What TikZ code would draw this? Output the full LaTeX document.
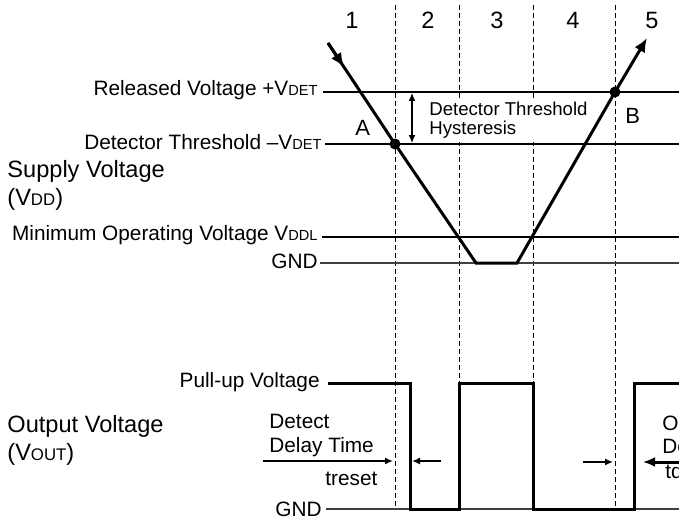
\documentclass[tikz,border=0pt]{standalone}
\usepackage{fontspec}
\setmainfont{Liberation Sans}
\usepackage{tikz}
\usetikzlibrary{arrows.meta,positioning,calc}
\newcommand{\lbl}{\fontsize{10.4}{12}\selectfont}
\newcommand{\lblbig}{\fontsize{11.8}{14}\selectfont}
\newcommand{\sbs}[1]{{\fontsize{7.3}{8}\selectfont #1}}
\newcommand{\sbsbig}[1]{{\fontsize{8.4}{9}\selectfont #1}}
\tikzset{
  level/.style={line width=0.6pt},
  gndline/.style={line width=0.6pt,black!75},
  marker/.style={line width=0.5pt,dash pattern=on 2.5pt off 1.5pt},
  wave/.style={line width=1.5pt,line join=miter},
  vdot/.style={circle,fill,inner sep=0pt,minimum size=5.5pt},
  tarrow/.style={line width=0.8pt,-{Latex[length=4pt,width=3.5pt]}},
  rtxt/.style={anchor=base east,inner sep=0pt,font=\lbl},
  ltxt/.style={anchor=base west,inner sep=0pt,font=\lbl},
}

\begin{document}
\begin{tikzpicture}[x=0.5pt,y=-0.5pt]
  \def\xr{679}
  \useasboundingbox (0,0) rectangle (\xr,519);
  \clip (0,0) rectangle (\xr,519);
  % time regions
  \foreach \x in {395,459,533,615} \draw[marker] (\x,5) -- (\x,507);
  \foreach \n/\x in {1/352,2/428,3/497,4/573,5/652}
    \node[anchor=base,inner sep=0pt,font=\lblbig] (num\n) at (\x,29) {\n};

  % supply voltage levels
  \node[rtxt] (rel) at (318,96) {Released Voltage +V\sbs{DET}};
  \node[rtxt] (det) at (322,149) {Detector Threshold –V\sbs{DET}};
  \node[rtxt] (vddl) at (318,240) {Minimum Operating Voltage V\sbs{DDL}};
  \node[rtxt] (gnda) at (318,268) {GND};
  \draw[level] (323,92) -- (\xr,92);
  \draw[level] (325,144) -- (\xr,144);
  \draw[level] (322,237) -- (\xr,237);
  \draw[gndline] (320,263) -- (\xr,263);
  \node[ltxt,font=\lblbig] (vdd) at (7,177) {Supply Voltage};
  \node[ltxt,font=\lblbig] (vddb) at (7,205) {(V\sbsbig{DD})};

  \draw[{Latex[length=4pt,width=3.5pt]}-{Latex[length=4pt,width=3.5pt]},line width=0.6pt] (412,93) -- (412,143);
  \node[anchor=west,align=left,fill=white,inner xsep=1pt,inner ysep=2pt,
        font=\fontsize{9.3}{9.6}\selectfont] (hyst) at (427,120) {Detector Threshold\\Hysteresis};

  % supply waveform
  \coordinate (A) at (395,144);
  \coordinate (B) at (615,92);
  \draw[wave] (328,43) -- (A) -- (476,263) -- (517,263) -- (B);
  \draw[wave,-{Latex[length=7pt,width=6pt]}] (328,43) -- (344,67);
  \draw[wave,-{Latex[length=7pt,width=6pt]}] (B) -- (647,38);
  \node[vdot] (dA) at (A) {};
  \node[vdot] (dB) at (B) {};
  \node[ltxt,font=\fontsize{11}{12}\selectfont] (lA) at (355,135) {A};
  \node[ltxt,font=\fontsize{11}{12}\selectfont] (lB) at (625,123) {B};

  % output voltage
  \node[rtxt] (pull) at (320,387) {Pull-up Voltage};
  \node[rtxt] (gndb) at (322,516) {GND};
  \node[ltxt,font=\lblbig] (vout) at (7,432) {Output Voltage};
  \node[ltxt,font=\lblbig] (voutb) at (7,460) {(V\sbsbig{OUT})};
  \draw[gndline] (326,509) -- (\xr,509);
  \draw[wave] (328,383) -- (410,383) -- (410,509) -- (459,509) -- (459,383)
    -- (533,383) -- (533,509) -- (634,509) -- (634,383) -- (\xr,383);

  \node[ltxt] (det1) at (269,428) {Detect};
  \node[ltxt] (det2) at (269,452) {Delay Time};
  \node[ltxt] (treset) at (325,485) {treset};
  \draw[tarrow] (263,461) -- (393,461);
  \draw[tarrow] (441,461) -- (412,461);
  \draw[tarrow] (583,462) -- (613,462);
  \draw[line width=1.5pt,-{Latex[length=6pt,width=5pt]}] (\xr,462) -- (643,462);
  \node[ltxt] (out1) at (662,430) {Output};
  \node[ltxt] (out2) at (662,453) {Delay Time};
  \node[ltxt] (tdelay) at (665,478) {tdelay};
\end{tikzpicture}
\end{document}
